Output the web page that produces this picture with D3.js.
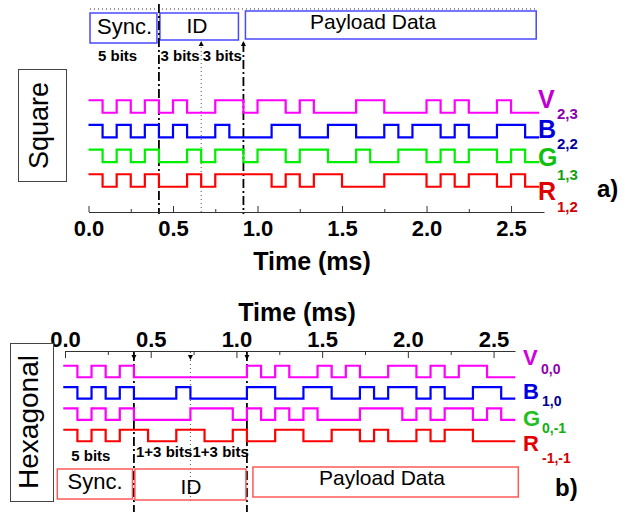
<!DOCTYPE html>
<html>
<head>
<meta charset="utf-8">
<script src="https://cdn.jsdelivr.net/npm/d3@7"></script>
<style>
  body { margin: 0; background: #fff; }
  svg { display: block; font-family: Arial, "Liberation Sans", sans-serif; }
</style>
</head>
<body>
<svg id="chart" width="633" height="512"></svg>
<script>
/* ---------- data ---------- */
const rowNames = ["V", "B", "G", "R"];
const sqSubs   = ["2,3", "2,2", "1,3", "1,2"];
const hxSubs   = ["0,0", "1,0", "0,-1", "-1,-1"];

// square constellation, one value per bit slot (32 slots)
const sqV = [1,0,1,0,1,0,1,0,0,1,1,0,1,1,0,1,0,0,0,1,1,0,0,0,1,0,1,0,0,1,0,0];
const sqB = [1,0,1,0,1,0,1,0,0,1,0,0,0,1,1,0,0,1,1,0,0,1,0,1,1,0,1,0,0,1,1,0];
const sqG = [1,0,1,0,1,0,0,1,0,1,1,0,1,1,0,1,1,0,0,1,0,0,1,1,0,1,0,1,1,0,1,0];
const sqR = [1,0,1,0,1,0,0,1,0,1,1,1,1,0,1,0,1,1,0,0,0,1,1,1,0,1,0,1,1,0,1,0];

// hexagonal constellation
const hxV = [1,0,1,0,1,0,0,0,0,0,0,0,0,1,0,1,0,0,1,0,1,0,0,1,1,0,1,0,1,1,0,0];
const hxB = [1,0,1,0,1,0,0,0,1,0,0,0,0,1,1,0,0,1,1,0,0,1,0,1,1,0,1,0,0,1,1,0];
const hxG = [1,0,1,0,1,0,0,0,0,1,1,1,0,1,0,1,0,1,0,0,0,1,1,1,0,1,0,1,1,0,1,0];
const hxR = [1,0,1,0,1,1,0,0,1,1,0,0,1,0,0,1,1,0,0,1,1,0,1,0,0,1,0,1,1,0,0,0];

const fieldNames = ["Sync.", "ID", "Payload Data"];
const sqBitText  = ["5 bits", "3 bits", "3 bits"];
const hxBitText  = ["5 bits", "1+3 bits", "1+3 bits"];
const sqMarks    = [5, 8, 11];     // bit index of divider lines
const hxMarks    = [5, 9, 13];
const timeTicks  = [0, 0.5, 1, 1.5, 2, 2.5];
const minorTicks = [0.25, 0.75, 1.25, 1.75, 2.25];

const sqBitMs = 1 / 12, sqStartMs = 0;
const hxBitMs = 0.0824, hxStartMs = -0.01;

/* ---------- setup ---------- */
const svg = d3.select("#chart");
const fmt = d3.format(".1f");
const NBITS = 32;

function drawSignals(g, x, y, amp, series, colors, bitMs, startMs) {
  series.forEach((bits, i) => {
    const yc = y(rowNames[i]);
    const pts = bits.map((b, k) => ({ t: startMs + k * bitMs, v: b }));
    pts.push({ t: startMs + bits.length * bitMs, v: bits[bits.length - 1] });
    const line = d3.line()
      .x(d => x(d.t))
      .y(d => d.v ? yc - amp / 2 : yc + amp / 2)
      .curve(d3.curveStepAfter);
    g.append("path").attr("d", line(pts))
      .attr("fill", "none").attr("stroke", colors[i]).attr("stroke-width", 2.2);
  });
}

function styleAxis(sel, size) {
  sel.select(".domain").attr("stroke", "#333").attr("stroke-width", 1);
  sel.selectAll(".tick line").attr("stroke", "#333");
  sel.selectAll(".tick text").attr("fill", "#000")
    .style("font-size", size + "px").style("font-weight", "bold");
}

function guide(g, xpos, y1, y2, kind) {
  g.append("line").attr("x1", xpos).attr("x2", xpos).attr("y1", y1).attr("y2", y2)
    .attr("stroke", kind === "dot" ? "#555" : "#000")
    .attr("stroke-width", kind === "dot" ? 1 : 1.8)
    .attr("stroke-dasharray", kind === "dot" ? "1,3" : "9,3,2,3");
}

function arrow(g, xpos, ytip, dir) {
  g.append("path")
    .attr("d", `M${xpos},${ytip} l-2.5,${5 * dir} l5,0 Z`)
    .attr("fill", "#000");
}

/* ---------- panel a) square ---------- */
{
  const g = svg.append("g");
  const x = d3.scaleLinear().domain([0, 2.695]).range([88.5, 544]);
  const y = d3.scalePoint().domain(rowNames).range([106.5, 180.5]);
  const tb = k => x(sqStartMs + k * sqBitMs);

  // top dotted line
  g.append("line").attr("x1", 90).attr("x2", 538).attr("y1", 9).attr("y2", 9)
    .attr("stroke", "#333").attr("stroke-dasharray", "1,3");

  // field boxes
  const edges = [0, sqMarks[0], sqMarks[2], NBITS];
  const boxY = [13, 13, 11], boxH = [30, 27, 28];
  const boxInset = [[1.5, -2], [1, -5], [2, -3]];
  fieldNames.forEach((name, i) => {
    const x0 = tb(edges[i]) + boxInset[i][0], x1 = tb(edges[i + 1]) + boxInset[i][1];
    g.append("rect").attr("x", x0).attr("y", boxY[i]).attr("width", x1 - x0).attr("height", boxH[i])
      .attr("fill", "#fff").attr("stroke", "#4848ff").attr("stroke-width", 1.5);
  });
  g.append("text").attr("x", 124.5).attr("y", 34).attr("text-anchor", "middle")
    .style("font-size", "22px").text(fieldNames[0]);
  g.append("text").attr("x", 197).attr("y", 33).attr("text-anchor", "middle")
    .style("font-size", "21px").text(fieldNames[1]);
  g.append("text").attr("x", 310).attr("y", 29)
    .style("font-size", "21px").text(fieldNames[2]);

  // bit counts
  const spans = [[0, sqMarks[0]], [sqMarks[0], sqMarks[1]], [sqMarks[1], sqMarks[2]]];
  sqBitText.forEach((t, i) => {
    const first = i === 0;
    g.append("text")
      .attr("x", first ? tb(spans[i][0]) + 9.5 : (tb(spans[i][0]) + tb(spans[i][1])) / 2)
      .attr("y", 61).attr("text-anchor", first ? "start" : "middle")
      .style("font-size", "15px").style("font-weight", "bold").text(t);
  });

  // dividers
  guide(g, tb(sqMarks[0]), 4, 214, "dash");
  guide(g, tb(sqMarks[1]), 43, 214, "dot");
  guide(g, tb(sqMarks[2]), 43, 214, "dash");
  arrow(g, tb(sqMarks[1]), 41, 1);
  arrow(g, tb(sqMarks[2]), 41, 1);

  drawSignals(g, x, y, 12.5, [sqV, sqB, sqG, sqR],
    ["#ff00ff", "#0000ff", "#00ee00", "#ff0000"], sqBitMs, sqStartMs);

  // axis (ticks point up)
  const ax = g.append("g").attr("transform", "translate(0,212)")
    .call(d3.axisBottom(x).tickValues(timeTicks).tickSize(-6).tickSizeOuter(0)
      .tickPadding(8).tickFormat(fmt));
  styleAxis(ax, 22);
  const axm = g.append("g").attr("transform", "translate(0,212)")
    .call(d3.axisBottom(x).tickValues(minorTicks).tickSize(-3).tickFormat(""));
  axm.select(".domain").remove();
  axm.selectAll(".tick line").attr("stroke", "#333");

  g.append("text").attr("x", 312).attr("y", 270).attr("text-anchor", "middle")
    .style("font-size", "25px").style("font-weight", "bold").text("Time (ms)");

  // channel labels
  const letterY = [108, 138, 166, 200], subY = [119, 149, 180, 212];
  const letterC = ["#c000d0", "#0000e0", "#10c010", "#e00000"];
  const subC    = ["#8a00b0", "#0000a0", "#10a010", "#d00000"];
  rowNames.forEach((n, i) => {
    g.append("text").attr("x", 538).attr("y", letterY[i]).attr("fill", letterC[i])
      .style("font-size", "25px").style("font-weight", "bold").text(n);
    g.append("text").attr("x", 557).attr("y", subY[i]).attr("fill", subC[i])
      .style("font-size", "15px").style("font-weight", "bold").text(sqSubs[i]);
  });

  g.append("text").attr("x", 597).attr("y", 197)
    .style("font-size", "24px").style("font-weight", "bold").text("a)");

  // side label
  g.append("rect").attr("x", 18.5).attr("y", 69.5).attr("width", 48).attr("height", 112)
    .attr("fill", "#fff").attr("stroke", "#444");
  g.append("text").attr("transform", "translate(48,125.5) rotate(-90)")
    .attr("text-anchor", "middle").style("font-size", "27px").text("Square");
}

/* ---------- panel b) hexagonal ---------- */
{
  const g = svg.append("g");
  const x = d3.scaleLinear().domain([0, 2.625]).range([65, 515]);
  const y = d3.scalePoint().domain(rowNames).range([371.5, 435.5]);
  const tb = k => x(hxStartMs + k * hxBitMs);

  // axis on top (ticks point down)
  const ax = g.append("g").attr("transform", "translate(0,351)")
    .call(d3.axisTop(x).tickValues(timeTicks).tickSize(-7).tickSizeOuter(0)
      .tickPadding(4).tickFormat(fmt));
  styleAxis(ax, 22);
  const axm = g.append("g").attr("transform", "translate(0,351)")
    .call(d3.axisTop(x).tickValues(minorTicks).tickSize(-4).tickFormat(""));
  axm.select(".domain").remove();
  axm.selectAll(".tick line").attr("stroke", "#333");

  g.append("text").attr("x", 297).attr("y", 321).attr("text-anchor", "middle")
    .style("font-size", "25px").style("font-weight", "bold").text("Time (ms)");

  // dividers
  guide(g, tb(hxMarks[0]), 352, 512, "dash");
  guide(g, tb(hxMarks[1]), 352, 503, "dot");
  guide(g, tb(hxMarks[2]), 352, 512, "dash");
  hxMarks.forEach(m => arrow(g, tb(m), 360, -1));

  drawSignals(g, x, y, 11.5, [hxV, hxB, hxG, hxR],
    ["#ff00ff", "#0000ff", "#ff00ff", "#ff0000"], hxBitMs, hxStartMs);

  // bit counts
  const spans = [[0, hxMarks[0]], [hxMarks[0], hxMarks[1]], [hxMarks[1], hxMarks[2]]];
  hxBitText.forEach((t, i) => {
    const first = i === 0;
    g.append("text")
      .attr("x", first ? tb(spans[i][0]) + 8 : (tb(spans[i][0]) + tb(spans[i][1])) / 2 + 2)
      .attr("y", first ? 461 : 457).attr("text-anchor", first ? "start" : "middle")
      .style("font-size", "15px").style("font-weight", "bold").text(t);
  });

  // field boxes
  const edges = [0, hxMarks[0], hxMarks[2], NBITS];
  const boxY = [469, 469, 467], boxH = [30, 31, 30];
  const boxInset = [[-6, -1.5], [1, -1], [6, 3]];
  fieldNames.forEach((name, i) => {
    const x0 = tb(edges[i]) + boxInset[i][0], x1 = tb(edges[i + 1]) + boxInset[i][1];
    g.append("rect").attr("x", x0).attr("y", boxY[i]).attr("width", x1 - x0).attr("height", boxH[i])
      .attr("fill", "none").attr("stroke", "#ff5a5a").attr("stroke-width", 1.5);
  });
  g.append("text").attr("x", 95).attr("y", 489).attr("text-anchor", "middle")
    .style("font-size", "22px").text(fieldNames[0]);
  g.append("text").attr("x", 191).attr("y", 494).attr("text-anchor", "middle")
    .style("font-size", "21px").text(fieldNames[1]);
  g.append("text").attr("x", 382).attr("y", 485).attr("text-anchor", "middle")
    .style("font-size", "21px").text(fieldNames[2]);

  // channel labels
  const letterY = [365, 399, 426, 451], subY = [374, 406, 433, 463];
  const subX    = [541, 542, 542, 542];
  const letterC = ["#d000e0", "#0000e0", "#20c020", "#e00000"];
  const subC    = ["#9000b0", "#000090", "#10b010", "#d00000"];
  rowNames.forEach((n, i) => {
    g.append("text").attr("x", 523).attr("y", letterY[i]).attr("fill", letterC[i])
      .style("font-size", "22px").style("font-weight", "bold").text(n);
    g.append("text").attr("x", subX[i]).attr("y", subY[i]).attr("fill", subC[i])
      .style("font-size", "14px").style("font-weight", "bold").text(hxSubs[i]);
  });

  g.append("text").attr("x", 555).attr("y", 496)
    .style("font-size", "24px").style("font-weight", "bold").text("b)");

  // side label
  g.append("rect").attr("x", 10.5).attr("y", 343.5).attr("width", 43).attr("height", 158)
    .attr("fill", "#fff").attr("stroke", "#444");
  g.append("text").attr("transform", "translate(38,422) rotate(-90)")
    .attr("text-anchor", "middle").style("font-size", "28px").text("Hexagonal");
}
</script>
</body>
</html>
